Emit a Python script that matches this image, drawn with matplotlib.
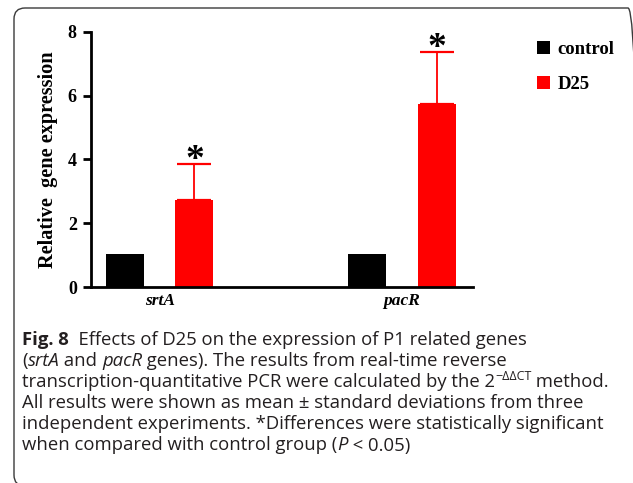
import numpy as np
import matplotlib
matplotlib.use("Agg")
import matplotlib.pyplot as plt
from matplotlib.patches import FancyBboxPatch
from matplotlib.transforms import IdentityTransform

# data -------------------------------------------------------------------------
genes = ["srtA", "pacR"]
groups = ["control", "D25"]
control_mean = [1.04, 1.04]
control_err = [0.0, 0.0]
d25_mean = [2.73, 5.73]
d25_err = [1.12, 1.62]
colors = ["#000000", "#ff0000"]
yticks = [0, 2, 4, 6, 8]

caption = [
    [("Fig. 8", "bold"), ("  Effects of D25 on the expression of P1 related genes", "normal")],
    [("(", "normal"), ("srtA", "italic"), (" and ", "normal"), ("pacR", "italic"),
     (" genes). The results from real-time reverse", "normal")],
    [("transcription-quantitative PCR were calculated by the 2", "normal"),
     ("\u2212\u0394\u0394CT", "sup"), (" method.", "normal")],
    [("All results were shown as mean \u00b1 standard deviations from three", "normal")],
    [("independent experiments. *Differences were statistically significant", "normal")],
    [("when compared with control group (", "normal"), ("P", "italic"), (" < 0.05)", "normal")],
]

W, H = 633, 483
fig = plt.figure(figsize=(W / 100, H / 100), dpi=100)

def px_box(x0, y0, x1, y1):
    # pixel box (from top-left) -> figure fraction rect
    return [x0 / W, 1 - y1 / H, (x1 - x0) / W, (y1 - y0) / H]

ax = fig.add_axes(px_box(90.7, 31.7, 473.3, 287.3))

serif = "Liberation Serif"
x = np.arange(len(genes))
bw = 0.157
off = 0.143

b1 = ax.bar(x - off, control_mean, bw, color=colors[0], label=groups[0])
b2 = ax.bar(x + off, d25_mean, bw, color=colors[1], label=groups[1])
ax.errorbar(x + off, d25_mean, yerr=[np.zeros(len(d25_err)), d25_err], fmt="none",
            ecolor=colors[1], elinewidth=1.3, capsize=12, capthick=1.6)

# significance marks above the error caps
for xi, m, e in zip(x + off, d25_mean, d25_err):
    ax.annotate("*", xy=(xi, m + e), xytext=(0, -10), textcoords="offset points",
                ha="center", va="bottom", fontsize=27, fontweight="bold",
                family=serif, color="black")

ax.set_xlim(-0.285, 1.294)
ax.set_ylim(0, 8)
ax.set_yticks(yticks)
ax.set_xticks(x)
ax.set_xticklabels(genes, fontsize=12.5, fontweight="bold", fontstyle="italic", family=serif)
for lab in ax.get_yticklabels():
    lab.set_fontsize(13)
    lab.set_fontweight("bold")
    lab.set_family(serif)
ax.tick_params(axis="x", length=0, pad=4)
ax.tick_params(axis="y", length=6, width=2, pad=4)
for s in ["top", "right"]:
    ax.spines[s].set_visible(False)
for s in ["left", "bottom"]:
    ax.spines[s].set_linewidth(2)
ax.set_ylabel("Relative  gene expression", fontsize=14.6, fontweight="bold",
              family=serif, labelpad=7)

leg = fig.legend(handles=[b1, b2], loc="upper left",
                 bbox_to_anchor=(537 / W, 1 - 41 / H), frameon=False,
                 borderpad=0, borderaxespad=0, handlelength=0.7, handleheight=0.7,
                 handletextpad=0.4, labelspacing=0.95,
                 prop={"family": serif, "weight": "bold", "size": 13.5})

# rounded frame around figure and caption (pixel coords, origin bottom-left)
frame = FancyBboxPatch((14, -3), 625, H - 8 + 3,
                       boxstyle="round,pad=0,rounding_size=11",
                       transform=IdentityTransform(), fill=False,
                       edgecolor="#3a3a3a", linewidth=1.0)
fig.add_artist(frame)

# caption, drawn run by run
cap_font = "Open Sans"
cap_size = 13.3
cap_color = "#231f20"
fig.canvas.draw()
renderer = fig.canvas.get_renderer()
y0 = 340
for i, line in enumerate(caption):
    xp = 22
    yp = y0 + i * 21.1
    for txt, style in line:
        kw = dict(family=cap_font, fontsize=cap_size, color=cap_color, va="center", ha="left")
        ty = yp
        if style == "bold":
            kw["fontweight"] = "bold"
        elif style == "italic":
            kw["fontstyle"] = "italic"
        elif style == "sup":
            kw["fontsize"] = cap_size * 0.68
            ty = yp - 6
        t = fig.text(xp / W, 1 - ty / H, txt, **kw)
        bb = t.get_window_extent(renderer)
        xp += bb.width

fig.savefig("out.png", dpi=100)
